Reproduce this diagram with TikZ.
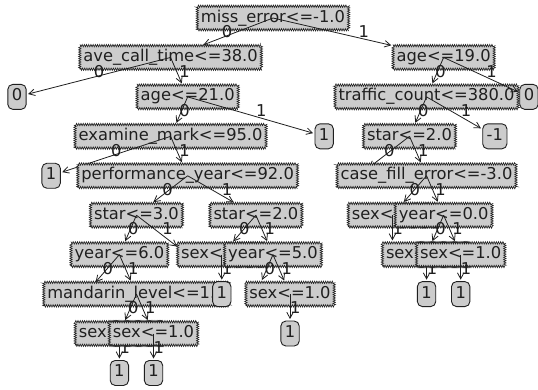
\documentclass[tikz,border=0pt]{standalone}
\usepackage{fontspec}
\setmainfont{DejaVu Sans}
\usetikzlibrary{decorations.pathmorphing,arrows.meta,calc}
\definecolor{boxgray}{gray}{0.8}
\definecolor{inkgray}{gray}{0.12}
\newcommand{\dtfont}{\fontsize{16.3}{19}\selectfont}
\tikzset{
 decbox/.style={draw=inkgray,line width=0.6pt,fill=boxgray,decorate,decoration={zigzag,segment length=2.2pt,amplitude=1.2pt},inner xsep=3.6pt,inner ysep=3.8pt,text height=12pt,text depth=4pt,font=\dtfont,text=inkgray},
 leafbox/.style={draw=inkgray,line width=0.9pt,fill=boxgray,rounded corners=5pt,inner xsep=4pt,inner ysep=4.5pt,text height=12pt,text depth=4pt,font=\dtfont,text=inkgray},
 hidleaf/.style={inner sep=0pt,minimum width=18.4pt,minimum height=25pt},
 elabel/.style={anchor=base west,inner sep=0pt,font=\dtfont,text=inkgray},
 conn/.style={draw=inkgray,line width=0.8pt,-{Straight Barb[length=6pt,width=6.5pt]},shorten >=1.5pt},
}
\begin{document}
\begin{tikzpicture}[x=1pt,y=-1pt]
\fill[white] (0,0) rectangle (538,389);
\useasboundingbox (0,0) rectangle (538,389);
% level y: 18, 57.44, 96.88, 136.32, 175.76, 215.2, 254.64, 294.08, 333.52, 372.96
\node[decbox] (n0) at (272.98,18) {miss\_error<=-1.0};
% ave_call_time
\coordinate (p1) at (170.59,57.44);
\path ($(n0)!0.5!(p1)$) node[elabel] (e1) {0};
\node[decbox] (n1) at (p1) {ave\_call\_time<=38.0};
\draw[conn] (n0.center) -- (n1);
% leaf 0
\node[leafbox] (l1) at (17,96.88) {0};
\draw[conn] (n1.center) -- (l1);
\path ($(n1)!0.5!(l1)$) node[elabel] (e2) {0};
% age<=21
\coordinate (p2) at (187.65,96.88);
\path ($(n1)!0.5!(p2)$) node[elabel] (e3) {1};
\node[decbox] (n2) at (p2) {age<=21.0};
\draw[conn] (n1.center) -- (n2);
% examine_mark
\coordinate (p3) at (170.59,136.32);
\path ($(n2)!0.5!(p3)$) node[elabel] (e4) {0};
\node[decbox] (n3) at (p3) {examine\_mark<=95.0};
\draw[conn] (n2.center) -- (n3);
% leaf 1
\node[leafbox] (l2) at (51.13,175.76) {1};
\draw[conn] (n3.center) -- (l2);
\path ($(n3)!0.5!(l2)$) node[elabel] (e5) {0};
% performance_year
\coordinate (p4) at (187.65,175.76);
\path ($(n3)!0.5!(p4)$) node[elabel] (e6) {1};
\node[decbox] (n4) at (p4) {performance\_year<=92.0};
\draw[conn] (n3.center) -- (n4);
% star<=3.0
\coordinate (p5) at (136.46,215.2);
\path ($(n4)!0.5!(p5)$) node[elabel] (e7) {0};
\node[decbox] (n5) at (p5) {star<=3.0};
\draw[conn] (n4.center) -- (n5);
% year<=6.0
\coordinate (p6) at (119.39,254.64);
\path ($(n5)!0.5!(p6)$) node[elabel] (e8) {0};
\node[decbox] (n6) at (p6) {year<=6.0};
\draw[conn] (n5.center) -- (n6);
% hidden leaf
\node[hidleaf] (l3) at (85.26,294.08) {};
\draw[conn] (n6.center) -- (l3);
\path ($(n6)!0.5!(l3)$) node[elabel] (e9) {0};
% mandarin
\coordinate (p7) at (136.46,294.08);
\path ($(n6)!0.5!(p7)$) node[elabel] (e10) {1};
\node[decbox] (n7) at (p7) {mandarin\_level<=1.0};
\draw[conn] (n6.center) -- (n7);
% sex (left)
\coordinate (p8) at (119.39,333.52);
\path ($(n7)!0.5!(p8)$) node[elabel] (e11) {0};
\node[decbox] (n8) at (p8) {sex<=1.0};
\draw[conn] (n7.center) -- (n8);
\node[leafbox] (l4) at (119.39,372.96) {1};
\draw[conn] (n8.center) -- (l4);
\path ($(n8)!0.5!(l4)$) node[elabel] (e12) {1};
% sex<=1.0
\coordinate (p9) at (153.52,333.52);
\path ($(n7)!0.5!(p9)$) node[elabel] (e13) {1};
\node[decbox] (n9) at (p9) {sex<=1.0};
\draw[conn] (n7.center) -- (n9);
\node[leafbox] (l5) at (153.52,372.96) {1};
\draw[conn] (n9.center) -- (l5);
\path ($(n9)!0.5!(l5)$) node[elabel] (e14) {1};
% hidden leaf of star<=3.0
\node[hidleaf] (l6) at (187.65,254.64) {};
\draw[conn] (n5.center) -- (l6);
\path ($(n5)!0.5!(l6)$) node[elabel] (e15) {1};
% star<=2.0
\coordinate (p10) at (255.91,215.2);
\path ($(n4)!0.5!(p10)$) node[elabel] (e16) {1};
\node[decbox] (n10) at (p10) {star<=2.0};
\draw[conn] (n4.center) -- (n10);
% sex<= (level 6)
\coordinate (p11) at (221.78,254.64);
\path ($(n10)!0.5!(p11)$) node[elabel] (e17) {0};
\node[decbox] (n11) at (p11) {sex<=1.0};
\draw[conn] (n10.center) -- (n11);
\node[leafbox] (l7) at (221.78,294.08) {1};
\draw[conn] (n11.center) -- (l7);
\path ($(n11)!0.5!(l7)$) node[elabel] (e18) {1};
% year<=5.0
\coordinate (p12) at (272.98,254.64);
\path ($(n10)!0.5!(p12)$) node[elabel] (e19) {1};
\node[decbox] (n12) at (p12) {year<=5.0};
\draw[conn] (n10.center) -- (n12);
\node[hidleaf] (l8) at (255.91,294.08) {};
\draw[conn] (n12.center) -- (l8);
\path ($(n12)!0.5!(l8)$) node[elabel] (e20) {0};
\coordinate (p13) at (290.04,294.08);
\path ($(n12)!0.5!(p13)$) node[elabel] (e21) {1};
\node[decbox] (n13) at (p13) {sex<=1.0};
\draw[conn] (n12.center) -- (n13);
\node[leafbox] (l9) at (290.04,333.52) {1};
\draw[conn] (n13.center) -- (l9);
\path ($(n13)!0.5!(l9)$) node[elabel] (e22) {1};
% leaf 1 of age<=21
\node[leafbox] (l10) at (324.17,136.32) {1};
\draw[conn] (n2.center) -- (l10);
\path ($(n2)!0.5!(l10)$) node[elabel] (e23) {1};
% right subtree
\coordinate (p14) at (443.63,57.44);
\path ($(n0)!0.5!(p14)$) node[elabel] (e24) {1};
\node[decbox] (n14) at (p14) {age<=19.0};
\draw[conn] (n0.center) -- (n14);
\coordinate (p15) at (426.56,96.88);
\path ($(n14)!0.5!(p15)$) node[elabel] (e25) {0};
\node[decbox] (n15) at (p15) {traffic\_count<=380.0};
\draw[conn] (n14.center) -- (n15);
\coordinate (p16) at (409.5,136.32);
\path ($(n15)!0.5!(p16)$) node[elabel] (e26) {0};
\node[decbox] (n16) at (p16) {star<=2.0};
\draw[conn] (n15.center) -- (n16);
\node[hidleaf] (l11) at (358.3,175.76) {};
\draw[conn] (n16.center) -- (l11);
\path ($(n16)!0.5!(l11)$) node[elabel] (e27) {0};
\coordinate (p17) at (426.56,175.76);
\path ($(n16)!0.5!(p17)$) node[elabel] (e28) {1};
\node[decbox] (n17) at (p17) {case\_fill\_error<=-3.0};
\draw[conn] (n16.center) -- (n17);
\coordinate (p18) at (392.43,215.2);
\path ($(n17)!0.5!(p18)$) node[elabel] (e29) {0};
\node[decbox] (n18) at (p18) {sex<=1.0};
\draw[conn] (n17.center) -- (n18);
\node[hidleaf] (l12) at (392.43,254.64) {};
\draw[conn] (n18.center) -- (l12);
\path ($(n18)!0.5!(l12)$) node[elabel] (e30) {1};
\coordinate (p19) at (443.63,215.2);
\path ($(n17)!0.5!(p19)$) node[elabel] (e31) {1};
\node[decbox] (n19) at (p19) {year<=0.0};
\draw[conn] (n17.center) -- (n19);
\coordinate (p20) at (426.56,254.64);
\path ($(n19)!0.5!(p20)$) node[elabel] (e32) {0};
\node[decbox] (n20) at (p20) {sex<=1.0};
\draw[conn] (n19.center) -- (n20);
\node[leafbox] (l13) at (426.56,294.08) {1};
\draw[conn] (n20.center) -- (l13);
\path ($(n20)!0.5!(l13)$) node[elabel] (e33) {1};
\coordinate (p21) at (460.69,254.64);
\path ($(n19)!0.5!(p21)$) node[elabel] (e34) {1};
\node[decbox] (n21) at (p21) {sex<=1.0};
\draw[conn] (n19.center) -- (n21);
\node[leafbox] (l14) at (460.69,294.08) {1};
\draw[conn] (n21.center) -- (l14);
\path ($(n21)!0.5!(l14)$) node[elabel] (e35) {1};
\node[leafbox] (l15) at (494.82,136.32) {-1};
\draw[conn] (n15.center) -- (l15);
\path ($(n15)!0.5!(l15)$) node[elabel] (e36) {1};
\node[leafbox] (l16) at (528.95,96.88) {0};
\draw[conn] (n14.center) -- (l16);
\path ($(n14)!0.5!(l16)$) node[elabel] (e37) {1};
\end{tikzpicture}
\end{document}
